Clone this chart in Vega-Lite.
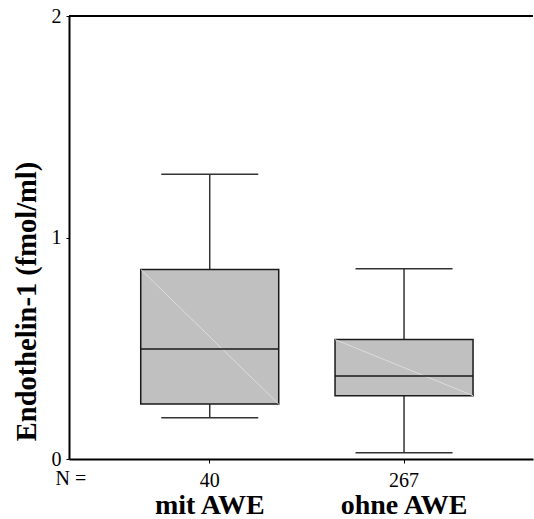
{
  "$schema": "https://vega.github.io/schema/vega-lite/v6.json",
  "width": 464,
  "height": 443,
  "autosize": "none",
  "padding": {"left": 69, "top": 16, "right": 1, "bottom": 60},
  "background": "white",
  "config": {
    "view": {"stroke": null},
    "font": "Liberation Serif",
    "axis": {"labelFont": "Liberation Serif", "titleFont": "Liberation Serif", "labelColor": "black", "titleColor": "black", "grid": false}
  },
  "data": {
    "values": [
      {"group": "mit AWE", "n": "40", "lower": 0.186, "q1": 0.248, "median": 0.497, "q3": 0.856, "upper": 1.285},
      {"group": "ohne AWE", "n": "267", "lower": 0.028, "q1": 0.286, "median": 0.375, "q3": 0.539, "upper": 0.859}
    ]
  },
  "layer": [
    {
      "mark": {"type": "rule", "color": "#333333", "strokeWidth": 1.5},
      "encoding": {
        "x": {
          "field": "n", "type": "nominal", "sort": null,
          "scale": {"paddingInner": 0, "paddingOuter": 0.194, "align": 0.578},
          "axis": {
            "orient": "bottom", "title": "N =", "labelAngle": 0,
            "domain": true, "domainColor": "black", "domainWidth": 2,
            "ticks": true, "tickSize": 4, "tickColor": "black", "tickWidth": 1,
            "labelFontSize": 20, "labelPadding": 7,
            "titleFontSize": 20, "titleFontWeight": "normal",
            "titleX": -14, "titleY": 19, "titleAlign": "left", "titleBaseline": "middle"
          }
        },
        "y": {
          "field": "lower", "type": "quantitative",
          "scale": {"domain": [0, 2], "nice": false, "zero": false},
          "axis": {
            "values": [0, 1, 2], "labelExpr": "format(datum.value, '.0f')", "labelOverlap": false,
            "tickSize": 3, "tickColor": "black", "labelFontSize": 20, "labelPadding": 5,
            "domainColor": "black", "domainWidth": 2,
            "title": "Endothelin-1 (fmol/ml)", "titleFontSize": 28.5, "titleFontWeight": "bold",
            "titleX": -43, "titleY": 285, "titleAlign": "center", "titleBaseline": "middle", "titleAngle": 270
          }
        },
        "y2": {"field": "upper"}
      }
    },
    {
      "encoding": {
        "x": {
          "field": "group", "type": "nominal", "sort": null,
          "scale": {"paddingInner": 0, "paddingOuter": 0.194, "align": 0.578},
          "axis": {
            "orient": "bottom", "title": null, "labelAngle": 0,
            "domain": false, "ticks": false,
            "labelFontSize": 28, "labelFontWeight": "bold", "labelPadding": 32
          }
        }
      },
      "layer": [
        {
          "mark": {"type": "tick", "color": "#333333", "size": 97, "thickness": 1.5, "opacity": 1},
          "encoding": {"y": {"field": "lower", "type": "quantitative"}}
        },
        {
          "mark": {"type": "tick", "color": "#333333", "size": 97, "thickness": 1.5, "opacity": 1},
          "encoding": {"y": {"field": "upper", "type": "quantitative"}}
        },
        {
          "mark": {"type": "bar", "size": 138, "fill": "#c0c0c0", "stroke": "#1a1a1a", "strokeWidth": 1.5},
          "encoding": {"y": {"field": "q1", "type": "quantitative"}, "y2": {"field": "q3"}}
        },
        {
          "mark": {"type": "rule", "color": "#dcdcdc", "strokeWidth": 1, "xOffset": -69, "x2Offset": 69},
          "encoding": {"x2": {"field": "group"}, "y": {"field": "q3", "type": "quantitative"}, "y2": {"field": "q1"}}
        },
        {
          "mark": {"type": "tick", "color": "#1a1a1a", "size": 138, "thickness": 1.5, "opacity": 1},
          "encoding": {"y": {"field": "median", "type": "quantitative"}}
        }
      ]
    },
    {
      "mark": "rule",
      "encoding": {"y": {"datum": 2}, "color": {"value": "black"}, "strokeWidth": {"value": 2}}
    }
  ],
  "resolve": {"scale": {"x": "independent"}, "axis": {"x": "independent"}}
}
